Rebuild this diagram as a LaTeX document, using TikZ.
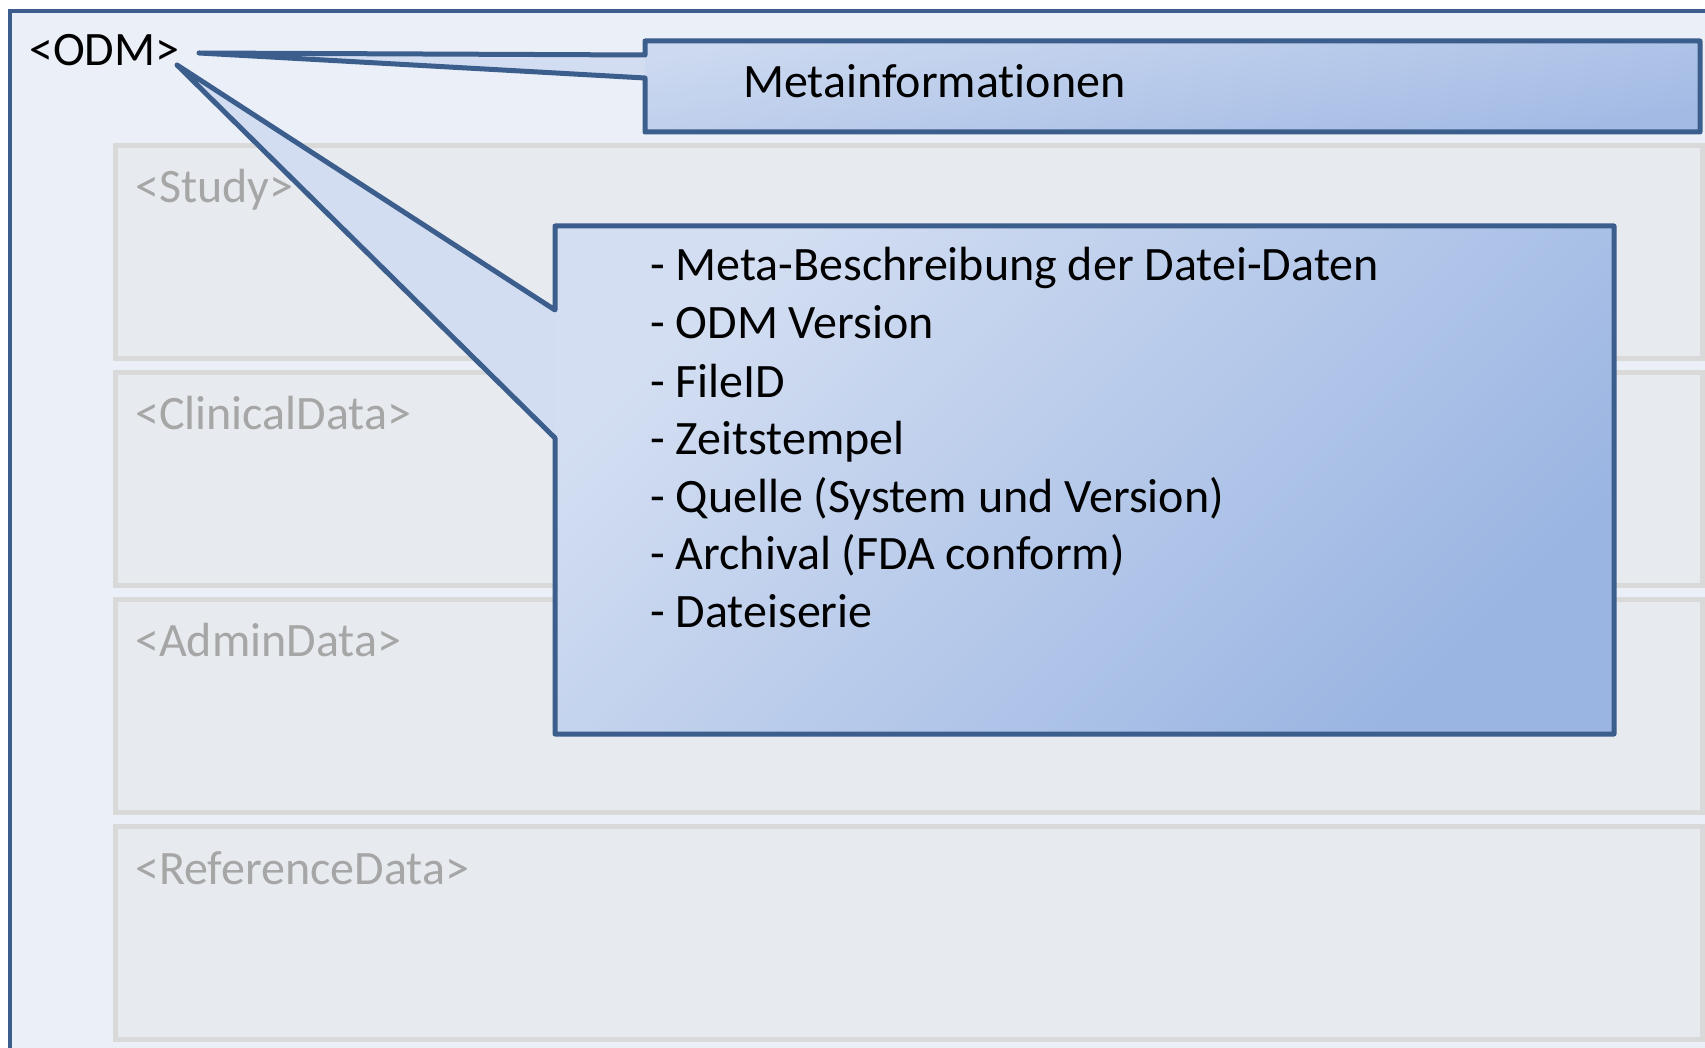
\documentclass[tikz,border=0pt]{standalone}
\usepackage{fontspec}
\setmainfont{Carlito}[Ligatures=NoCommon]
\definecolor{frameblue}{HTML}{3B5E8C}
\definecolor{framefill}{HTML}{EBF0F8}
\definecolor{elemfill}{HTML}{E7EAEF}
\definecolor{elemline}{HTML}{D9D9D9}
\definecolor{elemtext}{HTML}{A6A6A6}
\definecolor{calloutlight}{HTML}{D3DEF2}
\definecolor{calloutdark}{HTML}{9AB5E2}
\definecolor{pointerlight}{HTML}{D2DDF2}
\definecolor{metalight}{HTML}{CCD9F0}
\definecolor{metadark}{HTML}{A2BAE4}
\begin{document}
\begin{tikzpicture}[x=1pt,y=-1pt,
  bigtext/.style={font=\fontsize{48}{58}\selectfont, inner sep=0pt, anchor=base west},
  element/.style={fill=elemfill, draw=elemline, line width=5pt},
  elemlabel/.style={bigtext, text=elemtext},
  callout/.style={draw=frameblue, line width=5pt, line join=round}]
\useasboundingbox (0,0) rectangle (1705,1048);
\clip (0,0) rectangle (1705,1048);
\fill[white] (0,0) rectangle (1705,1048);

% ODM root frame, running past the right and bottom edges
\draw[fill=framefill, draw=frameblue, line width=4.5pt] (10,11) rectangle (1760,1100);

% child elements of ODM
\draw[element] (115,146) rectangle (1702,359);
\draw[element] (115,373) rectangle (1702,585);
\draw[element] (115,599) rectangle (1702,812);
\draw[element] (115,826) rectangle (1702,1039);
\node[elemlabel] (study) at (135,203) {<Study>};
\node[elemlabel] (clinical) at (135,429) {<ClinicalData>};
\node[elemlabel] (admin) at (135,656) {<AdminData>};
\node[elemlabel] (reference) at (135,884) {<ReferenceData>};

% root element label
\node[bigtext] (odm) at (29,66) {<ODM>};
\coordinate (tipmeta) at (199,53);
\coordinate (tiplist) at (177,65);

% callout with the list of meta information
\def\listcallout{(555,226) -- (1614,226) -- (1614,734) -- (555,734) -- (555,438)
  -- (tiplist) -- (555,310) -- cycle}
\fill[pointerlight] \listcallout;
\begin{scope}
  \clip \listcallout;
  \shade[top color=calloutlight, bottom color=calloutdark, shading angle=45]
    (555,226) rectangle (1614,734);
\end{scope}
\draw[callout] \listcallout;

% callout "Metainformationen"
\def\metacallout{(645,41) -- (1700,41) -- (1700,132) -- (645,132) -- (645,78)
  -- (tipmeta) -- (645,55) -- cycle}
\fill[pointerlight] \metacallout;
\begin{scope}
  \clip \metacallout;
  \shade[top color=metalight, bottom color=metadark, shading angle=10]
    (645,41) rectangle (1700,132);
\end{scope}
\draw[callout] \metacallout;
% the kern keeps "t" and "i" as separate glyphs
\node[bigtext] (meta) at (743,98) {Metainformat\kern0pt ionen};

% list entries
\node[bigtext] (l1) at (650,281) {- Meta-Beschreibung der Datei-Daten};
\node[bigtext] (l2) at (650,339) {- ODM Version};
\node[bigtext] (l3) at (650,397) {- FileID};
\node[bigtext] (l4) at (650,454) {- Zeitstempel};
\node[bigtext] (l5) at (650,512) {- Quelle (System und Version)};
\node[bigtext] (l6) at (650,569) {- Archival (FDA conform)};
\node[bigtext] (l7) at (650,627) {- Dateiserie};
\end{tikzpicture}
\end{document}
